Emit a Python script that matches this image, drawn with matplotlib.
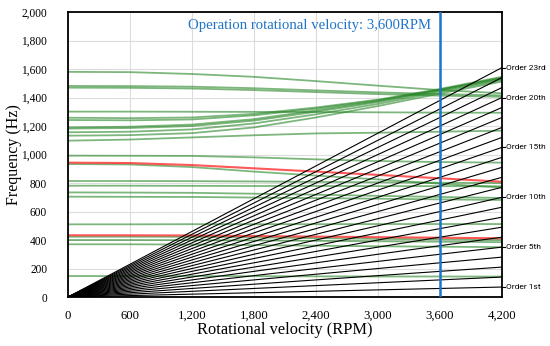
import matplotlib
matplotlib.use("Agg")
import matplotlib.pyplot as plt
from matplotlib.ticker import FuncFormatter
import numpy as np

# ---- data ----
rpm_pts = [0, 600, 1200, 1800, 2400, 3000, 3600, 4200]

green_modes = {
    "g1580": [1580, 1578, 1565, 1545, 1515, 1483, 1452, 1430],
    "g1481": [1481, 1480, 1476, 1465, 1450, 1436, 1424, 1415],
    "g1469": [1469, 1468, 1463, 1452, 1438, 1424, 1413, 1405],
    "g1258": [1258, 1255, 1260, 1285, 1330, 1385, 1460, 1545],
    "g1242": [1242, 1240, 1246, 1275, 1322, 1380, 1455, 1540],
    "g1190": [1190, 1195, 1210, 1248, 1310, 1375, 1455, 1535],
    "g1182": [1182, 1186, 1200, 1238, 1300, 1368, 1448, 1530],
    "g1156": [1156, 1160, 1176, 1218, 1282, 1355, 1440, 1522],
    "g1132": [1132, 1136, 1150, 1190, 1260, 1340, 1428, 1512],
    "g1301": [1301, 1301, 1300, 1299, 1298, 1296, 1294, 1293],
    "g1097": [1097, 1105, 1120, 1135, 1148, 1153, 1160, 1167],
    "g992":  [992, 991, 990, 980, 966, 954, 947, 943],
    "g933":  [933, 930, 912, 880, 852, 825, 795, 768],
    "g814":  [814, 814, 813, 811, 808, 805, 802, 800],
    "g781":  [781, 781, 780, 779, 779, 778, 778, 777],
    "g734":  [734, 733, 731, 725, 718, 710, 702, 695],
    "g704":  [704, 703, 702, 698, 694, 690, 685, 681],
    "g510":  [510, 510, 511, 511, 511, 512, 512, 512],
    "g423":  [423, 423, 422, 418, 413, 408, 404, 400],
    "g400":  [400, 400, 399, 397, 394, 391, 388, 385],
    "g370":  [370, 370, 368, 364, 360, 356, 353, 350],
    "g147":  [147, 147, 147, 146, 145, 144, 144, 143],
}
red_modes = {
    "r943": [943, 940, 926, 903, 880, 857, 833, 809],
    "r433": [433, 433, 432, 428, 424, 420, 416, 412],
}

orders = list(range(1, 24))
order_rpm = [0, 4200]
labeled_orders = [1, 5, 10, 15, 20, 23]
order_labels = ["Order 1st", "Order 5th", "Order 10th", "Order 15th", "Order 20th", "Order 23rd"]

operation_rpm = 3600
x_ticks = [0, 600, 1200, 1800, 2400, 3000, 3600, 4200]
y_ticks = list(range(0, 2001, 200))

# ---- plot ----
fig = plt.figure(figsize=(5.5, 3.46), dpi=100)
ax = fig.add_axes([0.1236, 0.1416, 0.9127 - 0.1236, 0.9653 - 0.1416])

serif = "Liberation Serif"

for o in orders:
    ax.plot(order_rpm, [o * r / 60 for r in order_rpm], color="black", lw=0.8, zorder=3)

for name, vals in green_modes.items():
    ax.plot(rpm_pts, vals, color="#268626", lw=1.3, alpha=0.6, zorder=2,
            solid_capstyle="butt")
for name, vals in red_modes.items():
    ax.plot(rpm_pts, vals, color="#ff2020", lw=1.5, alpha=0.75, zorder=2)

ax.axvline(operation_rpm, color="#1f74c8", lw=1.8, zorder=4)
ax.text(3510, 1902, "Operation rotational velocity: 3,600RPM", color="#1f74c8",
        fontsize=10.6, family=serif, ha="right", va="center")

ax.set_xlim(0, 4200)
ax.set_ylim(0, 2000)
ax.set_xticks(x_ticks)
ax.set_yticks(y_ticks)
fmt = FuncFormatter(lambda v, p: f"{int(v):,}")
ax.xaxis.set_major_formatter(fmt)
ax.yaxis.set_major_formatter(fmt)
ax.tick_params(length=0)
ax.tick_params(axis="x", pad=9, labelsize=9.2)
ax.tick_params(axis="y", pad=15, labelsize=8.3)
for lab in ax.get_xticklabels() + ax.get_yticklabels():
    lab.set_family(serif)
ax.grid(True, color="#dcdcdc", lw=0.8, zorder=0)
ax.set_axisbelow(True)
for sp in ax.spines.values():
    sp.set_linewidth(1.3)
    sp.set_color("black")

ax.set_xlabel("Rotational velocity (RPM)", family=serif, fontsize=11.8, labelpad=0)
ax.set_ylabel("Frequency (Hz)", family=serif, fontsize=11.5, labelpad=-0.5)

# order labels on the right
for o, lab in zip(labeled_orders, order_labels):
    yv = o * order_rpm[-1] / 60
    ax.plot([4200, 4228], [yv, yv], color="black", lw=0.8, clip_on=False, zorder=5)
    ax.text(4240, yv, lab, fontsize=6.0, family="Roboto", ha="left", va="center")

fig.savefig("out.png", dpi=100)
